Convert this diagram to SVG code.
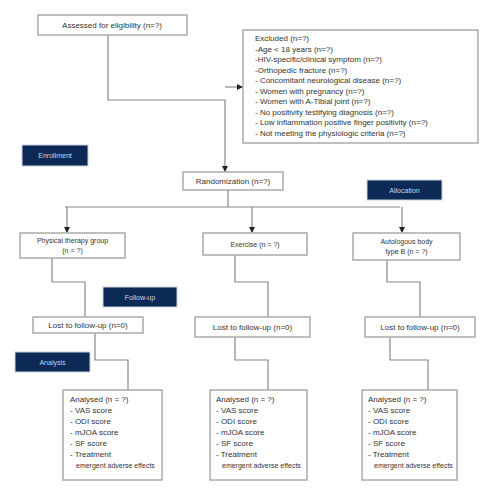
<svg xmlns="http://www.w3.org/2000/svg" width="500" height="500" viewBox="0 0 500 500">
<defs>
<marker id="ah" markerWidth="6" markerHeight="6" refX="5" refY="3" orient="auto" markerUnits="userSpaceOnUse">
<path d="M0,0 L6,3 L0,6 z" fill="#222"/>
</marker>
<style>
.box{fill:#fff;stroke:#aaa;stroke-width:1.5}
.lbl{fill:#0d2a57;stroke:#c9cfd8;stroke-width:1}
.t{font-family:"Liberation Sans",Arial,sans-serif;font-size:8px;fill:#333}
.s{font-size:7px}
.lt{font-family:"Liberation Sans",Arial,sans-serif;font-size:7px;fill:#c8d3e6;text-anchor:middle}
.c{text-anchor:middle}
.ln{fill:none;stroke:#888;stroke-width:1.2}
</style>
</defs>
<rect width="500" height="500" fill="#fff"/>
<g id="connectors">
<path class="ln" d="M108,35 V100 H225 V171" marker-end="url(#ah)"/>
<path class="ln" d="M225,87 H242" marker-end="url(#ah)"/>
<path class="ln" d="M228,190 V207"/>
<path class="ln" d="M65,207 H400"/>
<path class="ln" d="M67,207 V232" marker-end="url(#ah)"/>
<path class="ln" d="M252,207 V232" marker-end="url(#ah)"/>
<path class="ln" d="M402,207 V232" marker-end="url(#ah)"/>
<path class="ln" d="M52,258 V282 H85 V317"/>
<path class="ln" d="M235,255 V282 H268 V317"/>
<path class="ln" d="M387,260 V282 H420 V317"/>
<path class="ln" d="M95,333 V360 H128 V390"/>
<path class="ln" d="M235,337 V360 H268 V390"/>
<path class="ln" d="M390,337 V360 H428 V390"/>
</g>
<g id="assessed">
<rect class="box" x="38" y="15" width="149" height="20"/>
<text class="t c" x="112" y="28">Assessed for eligibility (n=?)</text>
</g>
<g id="excluded">
<rect class="box" x="243" y="30" width="235" height="113"/>
<text class="t" x="255" y="41">Excluded (n=?)</text>
<text class="t" x="255" y="51.5">-Age &lt; 18 years (n=?)</text>
<text class="t" x="255" y="62">-HIV-specific/clinical symptom (n=?)</text>
<text class="t" x="255" y="72.5">-Orthopedic fracture (n=?)</text>
<text class="t" x="255" y="83">- Concomitant neurological disease (n=?)</text>
<text class="t" x="255" y="93.5">- Women with pregnancy (n=?)</text>
<text class="t" x="255" y="104">- Women with A-Tibial joint (n=?)</text>
<text class="t" x="255" y="114.5">- No positivity testifying diagnosis (n=?)</text>
<text class="t" x="255" y="125">- Low inflammation positive finger positivity (n=?)</text>
<text class="t" x="255" y="135.5">- Not meeting the physiologic criteria (n=?)</text>
</g>
<g id="enrollment">
<rect class="lbl" x="22" y="145" width="66" height="21"/>
<text class="lt" x="55" y="158">Enrollment</text>
</g>
<g id="randomized">
<rect class="box" x="183" y="172" width="100" height="18"/>
<text class="t c" x="233" y="184">Randomization (n=?)</text>
</g>
<g id="allocation">
<rect class="lbl" x="367" y="180" width="75" height="20"/>
<text class="lt" x="404.5" y="192.5">Allocation</text>
</g>
<g id="arm1">
<rect class="box" x="20" y="233" width="105" height="25"/>
<text class="t s c" x="72.5" y="243">Physical therapy group</text>
<text class="t s c" x="72.5" y="253">(n = ?)</text>
</g>
<g id="arm2">
<rect class="box" x="203" y="233" width="104" height="22"/>
<text class="t s c" x="255" y="246.5">Exercise (n = ?)</text>
</g>
<g id="arm3">
<rect class="box" x="353" y="233" width="107" height="27"/>
<text class="t s c" x="406.5" y="244">Autologous body</text>
<text class="t s c" x="406.5" y="254">type B (n = ?)</text>
</g>
<g id="followup">
<rect class="lbl" x="103" y="287" width="74" height="20"/>
<text class="lt" x="140" y="299.5">Follow-up</text>
</g>
<g id="lost1">
<rect class="box" x="33" y="317" width="110" height="16"/>
<text class="t c" x="88" y="328">Lost to follow-up (n=0)</text>
</g>
<g id="lost2">
<rect class="box" x="195" y="317" width="115" height="20"/>
<text class="t c" x="252.5" y="330">Lost to follow-up (n=0)</text>
</g>
<g id="lost3">
<rect class="box" x="365" y="317" width="110" height="20"/>
<text class="t c" x="420" y="330">Lost to follow-up (n=0)</text>
</g>
<g id="analysis">
<rect class="lbl" x="15" y="352" width="75" height="20"/>
<text class="lt" x="52.5" y="364.5">Analysis</text>
</g>
<g id="analysed1">
<rect class="box" x="63" y="390" width="99" height="90"/>
<text class="t" x="70" y="402">Analysed (n = ?)</text>
<text class="t" x="70" y="413">- VAS score</text>
<text class="t" x="70" y="424">- ODI score</text>
<text class="t" x="70" y="435">- mJOA score</text>
<text class="t" x="70" y="446">- SF score</text>
<text class="t" x="70" y="457">- Treatment</text>
<text class="t s" x="76" y="468">emergent adverse effects</text>
</g>
<g id="analysed2">
<rect class="box" x="210" y="390" width="97" height="90"/>
<text class="t" x="216" y="402">Analysed (n = ?)</text>
<text class="t" x="216" y="413">- VAS score</text>
<text class="t" x="216" y="424">- ODI score</text>
<text class="t" x="216" y="435">- mJOA score</text>
<text class="t" x="216" y="446">- SF score</text>
<text class="t" x="216" y="457">- Treatment</text>
<text class="t s" x="222" y="468">emergent adverse effects</text>
</g>
<g id="analysed3">
<rect class="box" x="362" y="390" width="95" height="90"/>
<text class="t" x="368" y="402">Analysed (n = ?)</text>
<text class="t" x="368" y="413">- VAS score</text>
<text class="t" x="368" y="424">- ODI score</text>
<text class="t" x="368" y="435">- mJOA score</text>
<text class="t" x="368" y="446">- SF score</text>
<text class="t" x="368" y="457">- Treatment</text>
<text class="t s" x="374" y="468">emergent adverse effects</text>
</g>
</svg>
